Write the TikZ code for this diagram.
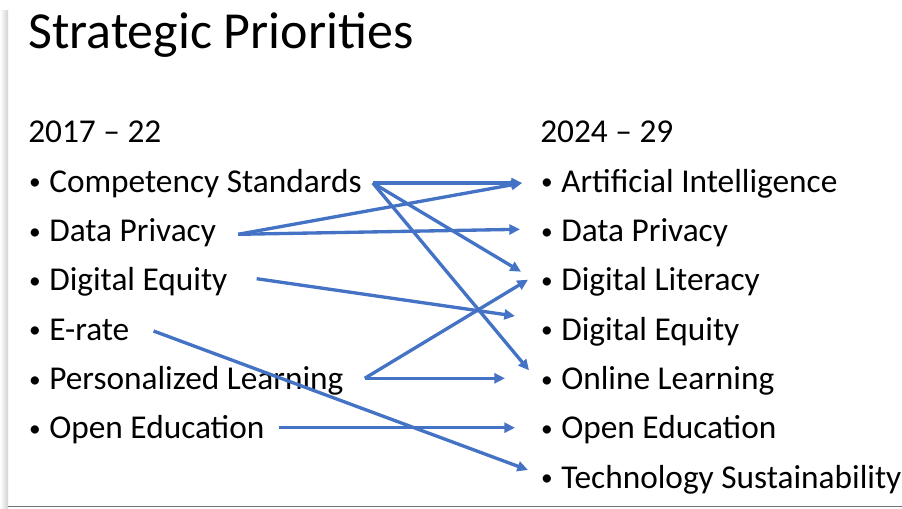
\documentclass[tikz,border=0pt]{standalone}
\usepackage{fontspec}
\setmainfont{Carlito}
\usepackage{xcolor}
\usepackage{tikz}
\usetikzlibrary{arrows.meta,positioning,calc}

\definecolor{linkblue}{RGB}{68,114,196}
\newcommand{\itm}[1]{\makebox[15.75pt][l]{\hspace*{0.6pt}\raisebox{1.6pt}{\fontsize{17.5}{20}\selectfont\textbullet}}#1}

\begin{document}
\begin{tikzpicture}[x=0.75pt,y=0.75pt,yscale=-1,xscale=1,
	title/.style={anchor=base west,inner sep=0pt,font=\fontsize{39}{47}\selectfont},
	head/.style={anchor=base west,inner sep=0pt,font=\fontsize{25}{30}\selectfont},
	item/.style={anchor=base west,inner sep=0pt,font=\fontsize{25}{30}\selectfont},
	link/.style={draw=linkblue,line width=2.5pt,-{Triangle[length=8pt,width=7.5pt]}}]
	\useasboundingbox (0,0) rectangle (902,508);

	%Shape: slide shadow and edge
	\shade [left color=white,right color=black!18] (0,10) rectangle (8,508);
	\draw [color=black!55,line width=1.2pt] (8,506.5) -- (902,506.5);

	% Text Node
	\node [title] (ttl) at (28,48.5) {Strategic Priorities};
	% Text Node
	\node [head] (oldhd) at (28,142) {2017 – 22};
	% Text Node
	\node [head] (newhd) at (540,142) {2024 – 29};

	% Left column
	\node [item] (l1) at (28,192) {\itm{Competency Standards}};
	\node [item] (l2) at (28,241.3) {\itm{Data Privacy}};
	\node [item] (l3) at (28,290.7) {\itm{Digital Equity}};
	\node [item] (l4) at (28,340) {\itm{E-rate}};
	\node [item] (l5) at (28,389.3) {\itm{Personalized Learning}};
	\node [item] (l6) at (28,438.7) {\itm{Open Education}};

	% Right column
	\node [item] (r1) at (540,192) {\itm{Artificial Intelligence}};
	\node [item] (r2) at (540,241.3) {\itm{Data Privacy}};
	\node [item] (r3) at (540,290.7) {\itm{Digital Literacy}};
	\node [item] (r4) at (540,340) {\itm{Digital Equity}};
	\node [item] (r5) at (540,389.3) {\itm{Online Learning}};
	\node [item] (r6) at (540,438.7) {\itm{Open Education}};
	\node [item] (r7) at (540,488) {\itm{Technology Sustainability}};

	%Straight Lines
	\draw [link] ([shift={(11,-9)}]l1.base east) -- ([shift={(-18,-9)}]r1.base west);
	\draw [link] ([shift={(11,-9)}]l1.base east) -- ([shift={(-19,-19)}]r3.base west);
	\draw [link] ([shift={(11,-9)}]l1.base east) -- ([shift={(-11,-19)}]r5.base west);
	\draw [link] ([shift={(22,-7)}]l2.base east) -- ([shift={(-18,-9)}]r1.base west);
	\draw [link] ([shift={(22,-7)}]l2.base east) -- ([shift={(-20,-12)}]r2.base west);
	\draw [link] ([shift={(29,-12)}]l3.base east) -- ([shift={(-25,-24)}]r4.base west);
	\draw [link] ([shift={(24,-9)}]l4.base east) -- ([shift={(-12,-18)}]r7.base west);
	\draw [link] ([shift={(21,-11)}]l5.base east) -- ([shift={(-12,-11)}]r3.base west);
	\draw [link] ([shift={(21,-11)}]l5.base east) -- ([shift={(-35,-11)}]r5.base west);
	\draw [link] ([shift={(14,-11)}]l6.base east) -- ([shift={(-25,-11)}]r6.base west);
\end{tikzpicture}
\end{document}
